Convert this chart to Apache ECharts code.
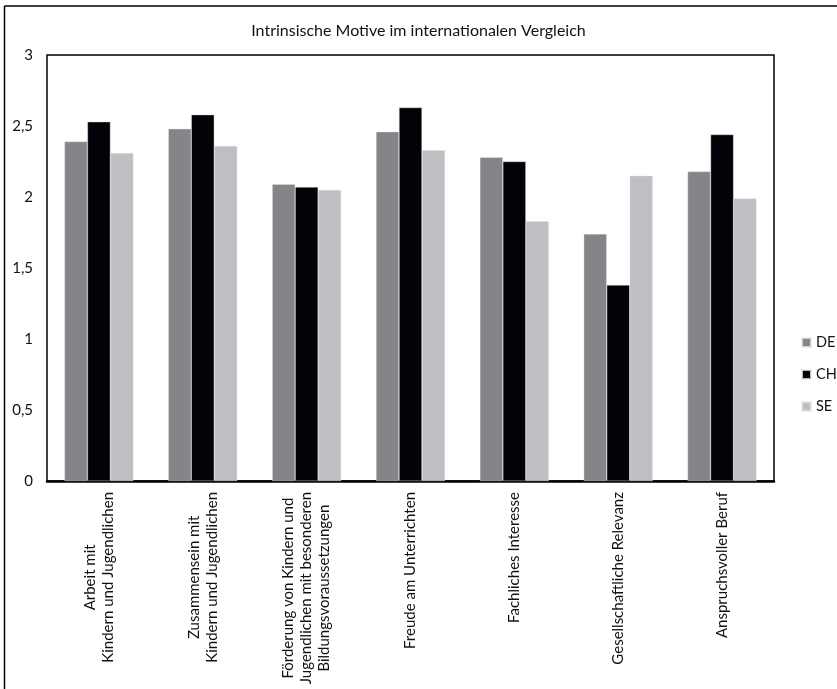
<!DOCTYPE html>
<html>
<head>
<meta charset="utf-8">
<script src="https://cdn.jsdelivr.net/npm/echarts@6/dist/echarts.min.js"></script>
<style>html,body{margin:0;padding:0;background:#fff;}#c{width:837px;height:689px;}</style>
</head>
<body>
<div id="c"></div>
<script>
const titleText = 'Intrinsische Motive im internationalen Vergleich';
const categories = [
  'Arbeit mit\nKindern und Jugendlichen',
  'Zusammensein mit\nKindern und Jugendlichen',
  'Förderung von Kindern und\nJugendlichen mit besonderen\nBildungsvoraussetzungen',
  'Freude am Unterrichten',
  'Fachliches Interesse',
  'Gesellschaftliche Relevanz',
  'Anspruchsvoller Beruf'
];
const seriesNames = ['DE', 'CH', 'SE'];
const valuesDE = [2.39, 2.48, 2.09, 2.46, 2.28, 1.74, 2.18];
const valuesCH = [2.53, 2.58, 2.07, 2.63, 2.25, 1.38, 2.44];
const valuesSE = [2.31, 2.36, 2.05, 2.33, 1.83, 2.15, 1.99];
const colors = ['#858489', '#020308', '#bfbec3'];

const FONT = 'Lato';
const chart = echarts.init(document.getElementById('c'), null, {renderer: 'canvas'});
const mk = (name, data, color) => ({
  name, type: 'bar', data, barWidth: 23, barGap: '0%',
  itemStyle: {color, borderColor: 'rgba(230,230,230,0.8)', borderWidth: 0.5},
  emphasis: {disabled: true}
});
chart.setOption({
  animation: false,
  backgroundColor: '#fff',
  textStyle: {fontFamily: FONT},
  title: {
    text: titleText, left: 'center', top: 18,
    textStyle: {fontFamily: FONT, fontSize: 16, fontWeight: 'normal', color: '#111'}
  },
  legend: {
    orient: 'vertical', left: 796, top: 330,
    itemWidth: 9, itemHeight: 9, itemGap: 17,
    icon: 'rect',
    textStyle: {fontFamily: FONT, fontSize: 14.5, color: '#111'},
    data: seriesNames
  },
  grid: {
    left: 47, top: 55, right: 63, bottom: 208,
    containLabel: false, outerBoundsMode: 'none',
    show: true, borderColor: '#000', borderWidth: 1.5, backgroundColor: 'transparent'
  },
  xAxis: {
    type: 'category', data: categories,
    axisLine: {lineStyle: {color: '#000', width: 2.5}},
    axisTick: {show: false},
    axisLabel: {
      rotate: 90, margin: 11, interval: 0, hideOverlap: false,
      formatter: v => v.split('\n').map(l => '{c|' + l + '}').join('\n'),
      rich: {c: {align: 'center', fontFamily: FONT, fontSize: 15, lineHeight: 18, color: '#111'}}
    }
  },
  yAxis: {
    type: 'value', min: 0, max: 3, interval: 0.5,
    axisLine: {show: false}, axisTick: {show: false},
    splitLine: {show: false},
    axisLabel: {
      margin: 14, fontFamily: FONT, fontSize: 15, color: '#111',
      formatter: v => String(v).replace('.', ',')
    }
  },
  series: [mk('DE', valuesDE, colors[0]), mk('CH', valuesCH, colors[1]), mk('SE', valuesSE, colors[2])],
  graphic: [
    {type: 'line', shape: {x1: 4.5, y1: 6, x2: 4.5, y2: 689}, style: {stroke: '#000', lineWidth: 1.5}},
    {type: 'line', shape: {x1: 4.5, y1: 6, x2: 837, y2: 6}, style: {stroke: '#000', lineWidth: 1.5}}
  ]
});
</script>
</body>
</html>
